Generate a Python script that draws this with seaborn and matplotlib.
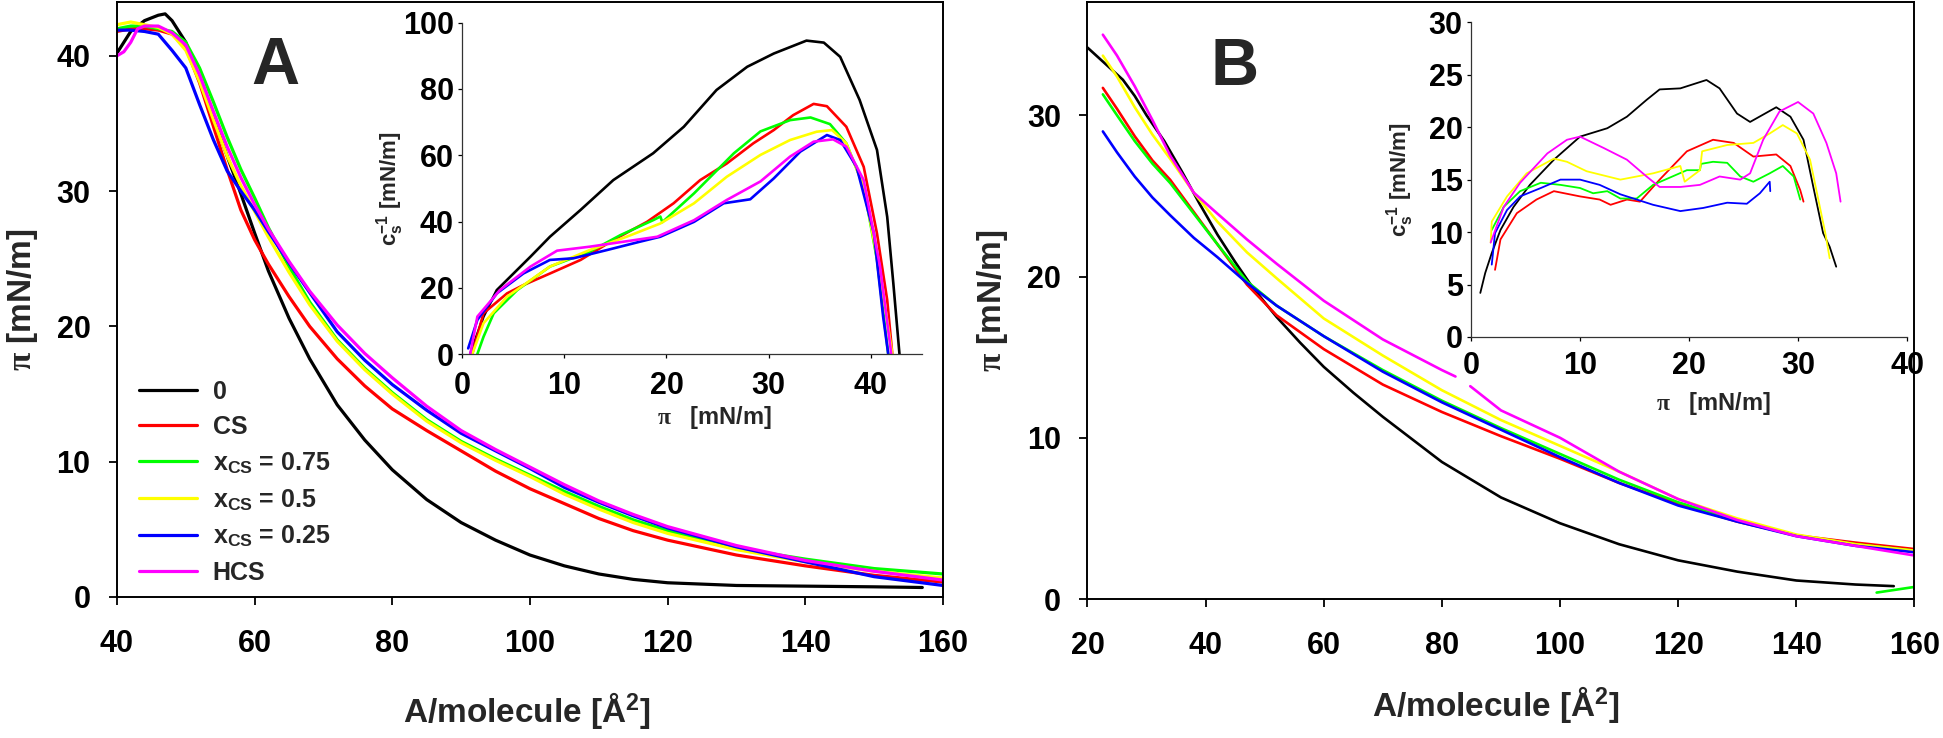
import numpy as np
import pandas as pd
import matplotlib
matplotlib.use("Agg")
import matplotlib.pyplot as plt
import seaborn as sns

# ---------------- data ----------------
series_names = ["0", "CS", "x$_{\\mathbf{CS}}$ = 0.75", "x$_{\\mathbf{CS}}$ = 0.5",
                "x$_{\\mathbf{CS}}$ = 0.25", "HCS"]
series_colors = ["#000000", "#FF0000", "#00FF00", "#FFFF00", "#0000FF", "#FF00FF"]

# Panel A, main isotherms (A/molecule vs pi)
A_grid = [40, 42, 44, 46, 48, 50, 52, 54, 56, 58, 60, 62, 65, 68, 72, 76, 80, 85, 90, 95,
          100, 105, 110, 115, 120, 130, 140, 150, 160]
A_x_0 = [40, 42, 44, 46, 47, 48, 50, 52, 54, 56, 58, 60, 62, 65, 68, 72, 76, 80, 85, 90, 95,
         100, 105, 110, 115, 120, 130, 140, 150, 157]
A_y_0 = [40.2, 41.8, 42.6, 43.0, 43.1, 42.6, 41.0, 38.2, 35.4, 32.6, 29.8, 26.9, 24.1, 20.6, 17.6,
         14.2, 11.6, 9.4, 7.2, 5.5, 4.2, 3.1, 2.3, 1.7, 1.3, 1.05, 0.85, 0.8, 0.75, 0.7]
A_y_CS = [41.8, 42.0, 42.0, 41.9, 41.6, 40.6, 38.0, 34.8, 31.6, 28.6, 26.4, 24.6, 22.2, 20.0, 17.6,
          15.6, 13.9, 12.3, 10.8, 9.3, 8.0, 6.9, 5.8, 4.9, 4.2, 3.1, 2.3, 1.6, 1.1]
A_y_075 = [42.0, 42.2, 42.2, 42.0, 41.8, 41.0, 39.1, 36.6, 34.0, 31.6, 29.5, 27.3, 24.4, 21.8, 19.0,
           16.9, 15.1, 13.1, 11.5, 10.2, 9.0, 7.8, 6.7, 5.7, 4.9, 3.6, 2.8, 2.1, 1.7]
A_y_05 = [42.3, 42.5, 42.3, 42.1, 41.6, 40.4, 38.1, 35.3, 32.6, 30.4, 28.5, 26.6, 24.0, 21.6, 18.9,
          16.8, 15.0, 13.0, 11.4, 10.1, 8.9, 7.6, 6.5, 5.5, 4.7, 3.5, 2.6, 1.9, 1.4]
A_y_025 = [41.9, 41.9, 41.8, 41.6, 40.4, 39.1, 36.4, 33.8, 31.5, 30.0, 28.6, 27.0, 24.7, 22.5, 19.6,
           17.5, 15.7, 13.8, 12.1, 10.8, 9.5, 8.1, 7.0, 6.0, 5.1, 3.7, 2.6, 1.5, 0.85]
A_x_HCS = [40, 41, 42, 43, 44, 46, 48, 50, 52, 54, 56, 58, 60, 62, 65, 68, 72, 76, 80, 85, 90, 95,
           100, 105, 110, 115, 120, 130, 140, 150, 160]
A_y_HCS = [40.0, 40.3, 41.0, 42.0, 42.2, 42.2, 41.7, 40.8, 38.6, 35.9, 33.3, 31.0, 29.0, 27.2, 24.8,
           22.6, 20.1, 18.0, 16.2, 14.1, 12.3, 10.9, 9.6, 8.3, 7.1, 6.1, 5.2, 3.8, 2.7, 1.9, 1.25]

# Panel A, inset (pi vs Cs^-1)
iA_x_0 = [0.8, 2.1, 3.4, 6.7, 8.6, 11.6, 14.8, 18.7, 21.7, 24.9, 27.9, 30.5, 33.7, 35.4, 37.0,
          38.9, 40.6, 41.6, 42.2, 42.8]
iA_y_0 = [0, 11.3, 19.3, 29.4, 35.4, 43.5, 52.5, 60.6, 68.6, 79.7, 86.7, 90.7, 94.6, 94.0, 89.7,
          76.7, 61.6, 41.4, 21.3, 0]
iA_x_CS = [1.0, 2.1, 4.4, 6.0, 8.6, 11.6, 14.8, 18.1, 20.7, 23.3, 25.9, 28.5, 30.5, 32.4, 34.4,
           35.7, 37.6, 39.3, 40.6, 41.6, 42.1]
iA_y_CS = [0, 12.3, 18.3, 20.8, 24.3, 28.4, 34.4, 39.9, 45.5, 52.5, 57.5, 63.6, 67.6, 72.1, 75.5,
           74.8, 68.6, 56.5, 36.4, 16.3, 0]
iA_x_075 = [1.5, 2.1, 3.1, 5.4, 8.6, 12.5, 15.5, 18.7, 19.4, 19.6, 22.7, 26.6, 29.2, 32.1, 34.1,
            36.0, 37.6, 39.3, 40.6, 41.7]
iA_y_075 = [0, 5.2, 12.3, 19.3, 26.4, 30.9, 35.9, 40.4, 41.5, 39.8, 48.5, 60.6, 67.2, 70.6, 71.4,
            69.4, 63.6, 50.5, 28.4, 0]
iA_x_05 = [1.0, 2.1, 4.4, 8.6, 12.5, 16.1, 19.4, 22.7, 25.9, 29.2, 32.1, 34.7, 36.2, 37.6, 39.3,
           40.9, 42.1]
iA_y_05 = [0, 9.3, 17.3, 26.4, 31.4, 35.4, 39.4, 45.5, 53.5, 60.1, 64.6, 67.1, 67.6, 63.6, 50.5,
           24.3, 0]
iA_x_025 = [0.6, 1.5, 3.4, 6.0, 8.6, 10.9, 14.2, 17.4, 19.4, 22.7, 25.6, 28.2, 30.5, 33.1, 35.7,
            37.0, 38.6, 40.3, 41.2, 41.7]
iA_y_025 = [1.7, 10.3, 18.3, 24.3, 28.4, 28.9, 31.4, 33.9, 35.4, 39.9, 45.5, 46.7, 53.0, 61.1, 66.1,
            64.6, 56.5, 36.4, 11.3, 0]
iA_x_HCS = [0.8, 1.5, 3.7, 6.7, 9.3, 12.5, 15.8, 19.1, 22.7, 25.9, 29.2, 32.1, 34.4, 36.3, 37.6,
            39.3, 40.9, 42.0]
iA_y_HCS = [0, 11.3, 19.3, 26.4, 31.2, 32.4, 33.9, 35.4, 40.4, 46.5, 52.1, 59.6, 64.1, 64.8, 62.6,
            52.5, 26.4, 0]

# Panel B, main isotherms
B_grid = [22.6, 25, 28, 31, 34, 38, 42, 47, 52, 60, 70, 80, 90, 100, 110, 120, 130, 140, 150, 160]
B_x_0 = [20, 23, 26, 28, 30, 33, 36, 39, 42, 45, 48, 52, 56, 60, 65, 70, 80, 90, 100, 110, 120,
         130, 140, 150, 156.5]
B_y_0 = [34.2, 33.2, 32.2, 31.2, 30.0, 28.4, 26.5, 24.5, 22.6, 20.9, 19.3, 17.5, 15.9, 14.4, 12.8,
         11.3, 8.5, 6.3, 4.7, 3.4, 2.4, 1.7, 1.15, 0.9, 0.8]
B_y_CS = [31.7, 30.4, 28.7, 27.2, 26.0, 24.0, 22.0, 19.5, 17.6, 15.5, 13.3, 11.6, 10.1, 8.7, 7.2,
          5.9, 4.8, 3.95, 3.5, 3.1]
B_x_075 = B_grid + [np.nan, 153.6, 160]
B_y_075 = [31.3, 30.0, 28.4, 27.0, 25.8, 23.9, 22.0, 19.7, 18.2, 16.3, 14.2, 12.3, 10.6, 9.0, 7.4,
           6.0, 4.9, 3.95, 3.4, 3.0, np.nan, 0.4, 0.75]
B_y_05 = [33.7, 32.4, 30.5, 28.8, 27.3, 25.2, 23.4, 21.5, 19.9, 17.4, 15.1, 12.95, 11.1, 9.5, 7.9,
          6.2, 5.0, 4.0, 3.4, 3.0]
B_y_025 = [29.0, 27.7, 26.2, 24.9, 23.8, 22.4, 21.2, 19.6, 18.2, 16.3, 14.1, 12.2, 10.5, 8.8, 7.2,
           5.8, 4.8, 3.9, 3.3, 2.9]
B_x_HCS = [22.6, 25, 28, 31, 34, 38, 42, 47, 52, 60, 70, 80, 82.3, np.nan, 84.8, 90, 100, 110, 120,
           130, 140, 150, 160]
B_y_HCS = [35.0, 33.7, 31.8, 29.7, 27.5, 25.2, 23.9, 22.3, 20.8, 18.5, 16.1, 14.2, 13.8, np.nan,
           13.2, 11.7, 10.0, 7.9, 6.2, 4.9, 3.9, 3.3, 2.7]

# Panel B, inset
iB_x_0 = [0.85, 1.3, 1.9, 2.7, 3.9, 5.4, 7.6, 10.0, 12.5, 14.3, 16.1, 17.3, 19.2, 21.6, 22.8, 24.4,
          25.6, 26.8, 28.0, 29.3, 30.5, 31.4, 32.3, 32.9, 33.5]
iB_y_0 = [4.2, 6.1, 8.0, 10.2, 12.4, 14.5, 16.9, 19.1, 19.9, 21.0, 22.6, 23.6, 23.7, 24.5, 23.7, 21.3,
          20.5, 21.2, 21.9, 21.0, 18.8, 14.3, 9.9, 8.6, 6.7]
iB_x_CS = [2.2, 2.7, 4.2, 6.0, 7.6, 10.0, 11.8, 12.8, 14.3, 15.5, 17.3, 19.8, 22.2, 24.1, 25.9, 28.0,
           29.3, 30.2, 30.5]
iB_y_CS = [6.4, 9.3, 11.8, 13.1, 13.9, 13.4, 13.1, 12.6, 13.1, 12.9, 15.0, 17.7, 18.8, 18.5, 17.2,
           17.4, 16.3, 14.0, 12.9]
iB_x_075 = [1.9, 3.0, 4.5, 6.4, 8.2, 10.0, 11.2, 12.5, 13.7, 15.2, 16.7, 19.8, 21.0, 21.1, 22.2, 23.5,
            24.7, 25.9, 27.4, 28.6, 29.6, 30.2]
iB_y_075 = [10.2, 12.4, 13.9, 14.7, 14.5, 14.2, 13.7, 13.9, 13.2, 13.2, 14.5, 15.9, 15.9, 16.5, 16.7,
            16.6, 15.3, 14.8, 15.6, 16.3, 15.3, 13.1]
iB_x_05 = [1.8, 1.9, 3.3, 5.1, 7.6, 8.8, 10.6, 13.7, 16.7, 19.2, 19.6, 21.0, 21.2, 23.5, 25.9, 27.4,
           28.6, 29.9, 31.1, 32.0, 32.5, 32.9]
iB_y_05 = [9.0, 11.0, 13.4, 15.6, 17.0, 16.7, 15.8, 15.0, 15.6, 16.3, 14.8, 15.9, 17.7, 18.3, 18.5,
           19.4, 20.2, 19.4, 16.9, 12.4, 9.9, 7.5]
iB_x_025 = [1.9, 2.2, 3.3, 4.5, 6.4, 8.2, 10.0, 11.8, 13.7, 15.2, 16.7, 19.2, 21.3, 23.5, 25.3, 26.5,
            27.4, 27.45]
iB_y_025 = [6.9, 9.9, 12.1, 13.4, 14.2, 15.0, 15.0, 14.5, 13.6, 13.1, 12.6, 12.0, 12.3, 12.8, 12.7,
            13.7, 14.8, 13.9]
iB_x_HCS = [1.8, 3.0, 4.5, 7.0, 8.8, 10.0, 12.2, 14.3, 16.1, 17.3, 19.2, 21.0, 22.8, 24.7, 25.6,
            26.8, 28.3, 30.0, 31.4, 32.6, 33.5, 33.9]
iB_y_HCS = [9.0, 12.4, 14.7, 17.5, 18.8, 19.1, 18.0, 16.9, 15.3, 14.3, 14.3, 14.5, 15.3, 15.0, 15.6,
            18.8, 21.5, 22.4, 21.3, 18.5, 15.6, 12.9]

# ---------------- style ----------------
sns.set_theme(style="ticks")
plt.rcParams.update({
    "font.family": ["Liberation Sans", "DejaVu Sans"],
    "font.weight": "bold",
    "axes.labelweight": "bold",
    "mathtext.fontset": "custom",
    "mathtext.rm": "Liberation Serif",
    "mathtext.it": "Liberation Serif:italic",
    "mathtext.bf": "Liberation Sans:bold",
    "axes.edgecolor": "black",
    "xtick.color": "black",
    "ytick.color": "black",
})

fig = plt.figure(figsize=(19.43, 7.38), dpi=100)
axA = fig.add_axes([0.0602, 0.1911, 0.4251, 0.8066])
axB = fig.add_axes([0.5597, 0.1883, 0.4256, 0.8084])
insA = fig.add_axes([0.2378, 0.5203, 0.2367, 0.4489])
insB = fig.add_axes([0.7571, 0.5434, 0.2244, 0.4264])


def draw(ax, xs, ys, color, lw, label=None):
    df = pd.DataFrame({"x": xs, "y": ys})
    df["seg"] = df["y"].isna().cumsum()
    df = df.dropna()
    first = None
    for _, g in df.groupby("seg"):
        sns.lineplot(data=g, x="x", y="y", ax=ax, color=color, lw=lw, sort=False,
                     estimator=None, legend=False)
        if first is None:
            first = ax.lines[-1]
    return first


mainA = [(A_x_0, A_y_0), (A_grid, A_y_CS), (A_grid, A_y_075), (A_grid, A_y_05),
         (A_grid, A_y_025), (A_x_HCS, A_y_HCS)]
insetA = [(iA_x_0, iA_y_0), (iA_x_CS, iA_y_CS), (iA_x_075, iA_y_075), (iA_x_05, iA_y_05),
          (iA_x_025, iA_y_025), (iA_x_HCS, iA_y_HCS)]
mainB = [(B_x_0, B_y_0), (B_grid, B_y_CS), (B_x_075, B_y_075), (B_grid, B_y_05),
         (B_grid, B_y_025), (B_x_HCS, B_y_HCS)]
insetB = [(iB_x_0, iB_y_0), (iB_x_CS, iB_y_CS), (iB_x_075, iB_y_075), (iB_x_05, iB_y_05),
          (iB_x_025, iB_y_025), (iB_x_HCS, iB_y_HCS)]

handles = []
for (x, y), c in zip(mainA, series_colors):
    handles.append(draw(axA, x, y, c, 2.3))
for (x, y), c in zip(insetA, series_colors):
    draw(insA, x, y, c, 1.9)
for (x, y), c in zip(mainB, series_colors):
    draw(axB, x, y, c, 1.9)
for (x, y), c in zip(insetB, series_colors):
    draw(insB, x, y, c, 1.3)

# ---------------- main axes formatting ----------------
for ax, xlim, ylim, xt, yt in [(axA, (40, 160), (0, 44), range(40, 161, 20), range(0, 41, 10)),
                               (axB, (20, 160), (0, 37), range(20, 161, 20), range(0, 31, 10))]:
    ax.set_xlim(*xlim)
    ax.set_ylim(*ylim)
    ax.set_xticks(list(xt))
    ax.set_yticks(list(yt))
    for s in ax.spines.values():
        s.set_linewidth(1.4)
        s.set_color("black")
    ax.tick_params(axis="x", direction="out", length=6, width=1.3, labelsize=22, pad=17)
    ax.tick_params(axis="y", direction="out", length=6, width=1.3, labelsize=22, pad=13)
    ax.set_xlabel("A/molecule [Å$^{\\mathbf{2}}$]", fontsize=24, fontweight="bold")
    ax.set_ylabel("$\\mathrm{\\pi}$ [mN/m]", fontsize=24, fontweight="bold")
    ax.xaxis.label.set_va("center")
    ax.yaxis.label.set_va("center")
    ax.set_facecolor("white")

axA.xaxis.set_label_coords(0.496, -0.19)
axA.yaxis.set_label_coords(-0.114, 0.5)
axB.xaxis.set_label_coords(0.494, -0.176)
axB.yaxis.set_label_coords(-0.115, 0.5)

# ---------------- insets ----------------
for ax, xlim, ylim, xt, yt, xpad in [(insA, (0, 45), (0, 100), range(0, 41, 10), range(0, 101, 20), 9),
                                     (insB, (0, 40), (0, 30), range(0, 41, 10), range(0, 31, 5), 7)]:
    ax.set_xlim(*xlim)
    ax.set_ylim(*ylim)
    ax.set_xticks(list(xt))
    ax.set_yticks(list(yt))
    ax.set_facecolor("none")
    for side in ["top", "right"]:
        ax.spines[side].set_visible(False)
    for side in ["left", "bottom"]:
        ax.spines[side].set_linewidth(0.9)
        ax.spines[side].set_color("#333333")
    ax.tick_params(axis="x", direction="out", length=3, width=0.9, labelsize=22, pad=xpad)
    ax.tick_params(axis="y", direction="out", length=3, width=0.9, labelsize=22, pad=3)
    ax.set_xlabel("$\\mathrm{\\pi}$   [mN/m]", fontsize=17, fontweight="bold")
    ax.set_ylabel("$\\mathbf{c_s^{-1}}$ [mN/m]", fontsize=16, fontweight="bold")
    ax.xaxis.label.set_va("center")
    ax.yaxis.label.set_va("center")

insA.xaxis.set_label_coords(0.548, -0.193)
insA.yaxis.set_label_coords(-0.157, 0.5)
insB.xaxis.set_label_coords(0.555, -0.21)
insB.yaxis.set_label_coords(-0.163, 0.5)

# ---------------- legend & panel letters ----------------
leg = axA.legend(handles, series_names, loc="upper left", bbox_to_anchor=(0.027, 0.365),
                 frameon=False, fontsize=18, handlelength=2.3, handletextpad=0.64,
                 labelspacing=0.45, borderaxespad=0, borderpad=0)
for t in leg.get_texts():
    t.set_fontweight("bold")

fig.text(0.142, 0.909, "A", fontsize=48, fontweight="bold", ha="center", va="center")
fig.text(0.6356, 0.908, "B", fontsize=48, fontweight="bold", ha="center", va="center")

fig.savefig("out.png", dpi=100)
